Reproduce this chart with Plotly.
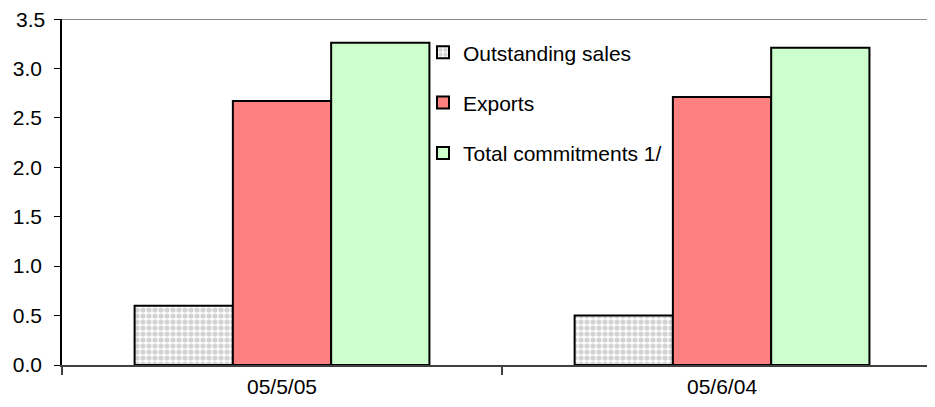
import plotly.graph_objects as go

categories = ["05/5/05", "05/6/04"]
outstanding_sales = [0.60, 0.50]
exports = [2.67, 2.71]
total_commitments = [3.26, 3.21]
series_names = ["Outstanding sales", "Exports", "Total commitments 1/"]
y_ticks = [0.0, 0.5, 1.0, 1.5, 2.0, 2.5, 3.0, 3.5]

fig = go.Figure()
fig.add_trace(go.Bar(
    x=categories, y=outstanding_sales, name=series_names[0], legendgroup="a",
    marker=dict(color="white", line=dict(color="black", width=2),
                pattern=dict(shape=".", fgcolor="#a8a8a8", bgcolor="white", size=6, solidity=0.6)),
))
fig.add_trace(go.Bar(
    x=categories, y=exports, name=series_names[1], legendgroup="b",
    marker=dict(color="#ff8080", line=dict(color="black", width=2)),
))
fig.add_trace(go.Bar(
    x=categories, y=total_commitments, name=series_names[2], legendgroup="c",
    marker=dict(color="#ccffcc", line=dict(color="black", width=2)),
))

top_tick = y_ticks[-1]
tick_text = [f"{v:.1f}" for v in y_ticks[:-1]] + [""]

fig.update_layout(
    width=927, height=399,
    margin=dict(l=54, r=0, t=11, b=42, autoexpand=False),
    paper_bgcolor="white", plot_bgcolor="white",
    font=dict(family="Arial, Liberation Sans, sans-serif", size=21, color="black"),
    barmode="group", bargap=0.33, bargroupgap=0,
    showlegend=True,
    legend=dict(x=0.4135, y=0.962, xanchor="left", yanchor="top",
                bgcolor="rgba(0,0,0,0)", traceorder="grouped",
                tracegroupgap=20, itemwidth=30,
                font=dict(size=21)),
    xaxis=dict(type="category", range=[-0.5, 1.484], showline=True, automargin=False,
               linecolor="#404040", linewidth=2, ticks="outside",
               tickson="boundaries", ticklen=8, tickcolor="#404040", tickwidth=2,
               showgrid=False, zeroline=False, tickfont=dict(size=21),
               ticklabelstandoff=2),
    yaxis=dict(range=[0, 3.5], tickvals=y_ticks, automargin=False,
               ticktext=tick_text,
               showline=True, linecolor="black", linewidth=1.5,
               ticks="outside", ticklen=6, tickcolor="black", tickwidth=1,
               showgrid=False, zeroline=False, tickfont=dict(size=21),
               ticklabelstandoff=8),
    shapes=[dict(type="line", xref="paper", yref="y", x0=0, x1=1, y0=3.5, y1=3.5,
                 line=dict(color="#888888", width=2), layer="below")],
    annotations=[dict(text=f"{top_tick:.1f}", xref="paper", yref="y", x=0, y=top_tick,
                      xanchor="right", yanchor="middle", xshift=-15, showarrow=False,
                      font=dict(size=21, color="black"))],
)

fig.write_html("out.html")
